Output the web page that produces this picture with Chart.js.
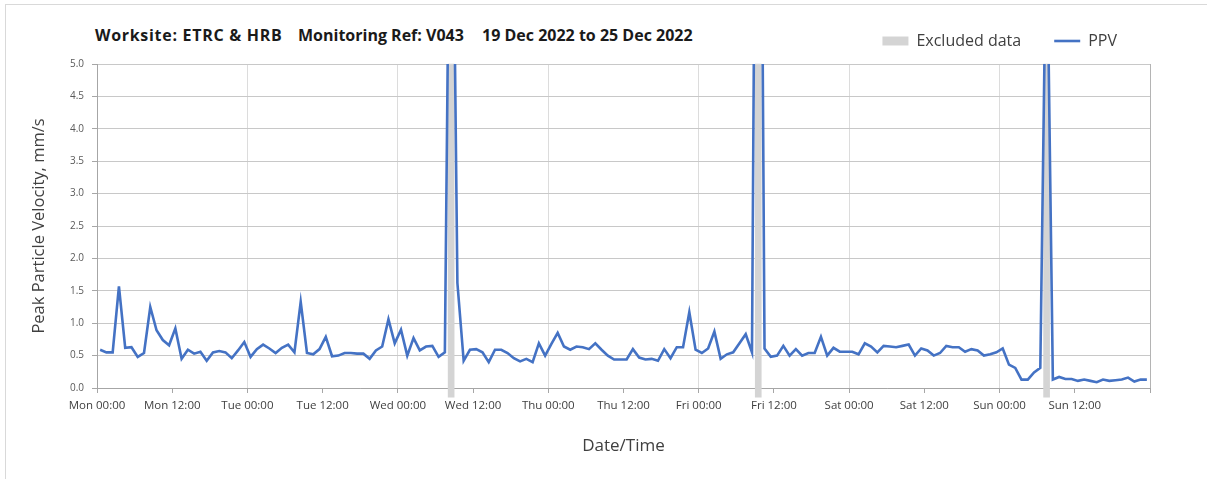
<!DOCTYPE html>
<html>
<head>
<meta charset="utf-8">
<title>PPV - V043</title>
<script src="https://cdn.jsdelivr.net/npm/chart.js@4.4.0/dist/chart.umd.min.js"></script>
<style>
  body { margin: 0; background: #fff; }
  #wrap { position: relative; width: 1207px; height: 479px; overflow: hidden; }
  #frame { position: absolute; left: 5px; top: 4px; width: 1300px; height: 600px;
           border-left: 1px solid #d9d9d9; border-top: 1px solid #d9d9d9; }
  #chartTitle span { position: absolute; top: 24px; font-family: "Open Sans", sans-serif;
                     font-weight: bold; font-size: 16px; color: #1a1a1a; white-space: pre; }
  #chartTitle .site { letter-spacing: 0.7px; }
  canvas { position: absolute; left: 0; top: 0; }
</style>
</head>
<body>
<div id="wrap">
  <div id="frame"></div>
  <div id="chartTitle"><span class="site" style="left: 95px">Worksite: ETRC &amp; HRB</span><span style="left: 298px">Monitoring Ref: V043</span><span style="left: 482px">19 Dec 2022 to 25 Dec 2022</span></div>
  <canvas id="myChart" width="1207" height="479"></canvas>
</div>
<script>
var dayLabels = ['Mon', 'Tue', 'Wed', 'Thu', 'Fri', 'Sat', 'Sun'];
var totalHours = 168;
var yMax = 5.0;
var yStep = 0.5;

// hourly PPV readings, mm/s, Mon 19 Dec 00:00 onwards
var ppvMon = [0.59, 0.55, 0.55, 1.57, 0.62, 0.63, 0.48, 0.54, 1.25, 0.89, 0.74, 0.66,
              0.92, 0.45, 0.59, 0.53, 0.56, 0.42, 0.55, 0.57, 0.55, 0.46, 0.58, 0.71];
var ppvTue = [0.48, 0.60, 0.67, 0.61, 0.54, 0.62, 0.67, 0.55, 1.33, 0.54, 0.52, 0.60,
              0.79, 0.49, 0.50, 0.54, 0.54, 0.53, 0.53, 0.45, 0.58, 0.64, 1.06, 0.69];
var ppvWed = [0.90, 0.50, 0.77, 0.58, 0.64, 0.65, 0.48, 0.55, 10.5, 1.62, 0.42, 0.59,
              0.60, 0.55, 0.40, 0.59, 0.59, 0.54, 0.46, 0.41, 0.45, 0.40, 0.69, 0.50];
var ppvThu = [0.68, 0.85, 0.64, 0.59, 0.64, 0.63, 0.60, 0.69, 0.59, 0.50, 0.44, 0.44,
              0.44, 0.60, 0.47, 0.44, 0.45, 0.42, 0.60, 0.46, 0.63, 0.63, 1.17, 0.59];
var ppvFri = [0.54, 0.61, 0.87, 0.45, 0.52, 0.55, 0.69, 0.83, 0.55, 16.0, 0.61, 0.48,
              0.50, 0.65, 0.50, 0.60, 0.50, 0.54, 0.54, 0.79, 0.50, 0.62, 0.56, 0.56];
var ppvSat = [0.56, 0.52, 0.69, 0.64, 0.55, 0.65, 0.64, 0.63, 0.65, 0.67, 0.50, 0.61,
              0.58, 0.50, 0.54, 0.65, 0.63, 0.63, 0.56, 0.60, 0.58, 0.50, 0.52, 0.55];
var ppvSun = [0.61, 0.36, 0.31, 0.13, 0.13, 0.24, 0.31, 7.5, 0.13, 0.17, 0.14, 0.14,
              0.11, 0.13, 0.11, 0.09, 0.13, 0.11, 0.12, 0.13, 0.16, 0.10, 0.13, 0.13];

// hours flagged as excluded data, band runs a little under the axis
var excludedHours = [56, 105, 151];
var excludedRange = [-0.14, yMax];

var ppv = [].concat(ppvMon, ppvTue, ppvWed, ppvThu, ppvFri, ppvSat, ppvSun);

var fontFamily = '"Open Sans", sans-serif';
var textColor = '#404040';

// gives the legend some room underneath
var legendMargin = {
    id: 'legendMargin',
    beforeInit: function(chart) {
        var fitValue = chart.legend.fit;
        chart.legend.fit = function fit() {
            fitValue.bind(chart.legend)();
            this.height += 5;
        };
    }
};

function xTickLabel(value) {
    if (value >= totalHours) return '';
    var day = dayLabels[Math.floor(value / 24)];
    return day + (value % 24 === 0 ? ' 00:00' : ' 12:00');
}

function xGridColor(ctx) {
    var v = ctx.tick.value;
    if (v === totalHours) return '#b4b4b4';
    return v % 24 === 0 ? '#dcdcdc' : 'rgba(0,0,0,0)';
}

var chartConfig = {
    type: 'line',
    data: {
        datasets: [{
            type: 'bar',
            label: 'Excluded data',
            data: excludedHours.map(function(h) { return {x: h + 0.5, y: excludedRange}; }),
            backgroundColor: '#d4d4d4',
            borderWidth: 0,
            barThickness: 6,
            pointStyle: 'rect',
            clip: false,
            order: 1
        }, {
            type: 'line',
            label: 'PPV',
            data: ppv.map(function(v, i) { return {x: i + 0.5, y: v}; }),
            borderColor: '#4472C4',
            backgroundColor: '#4472C4',
            borderWidth: 2.6,
            pointRadius: 0,
            pointStyle: 'line',
            tension: 0,
            clip: 0,
            order: 0
        }]
    },
    options: {
        responsive: false,
        animation: false,
        events: [],
        layout: { padding: { left: 29, right: 57, top: 0, bottom: 0 } },
        plugins: {
            tooltip: { enabled: false },
            legend: {
                position: 'top',
                align: 'end',
                labels: {
                    usePointStyle: true,
                    pointStyleWidth: 26,
                    boxHeight: 9,
                    padding: 33,
                    color: textColor,
                    font: { family: fontFamily, size: 16 },
                    sort: function(a, b) { return a.datasetIndex - b.datasetIndex; }
                }
            }
        },
        scales: {
            x: {
                type: 'linear',
                min: 0,
                max: totalHours,
                offset: false,
                afterFit: function(scale) { scale.height = 91; },
                grid: {
                    offset: false,
                    color: xGridColor,
                    tickColor: '#a6a6a6',
                    tickLength: 5
                },
                border: { color: '#a6a6a6' },
                ticks: {
                    stepSize: 12,
                    autoSkip: false,
                    maxRotation: 0,
                    padding: 6,
                    color: textColor,
                    font: { family: fontFamily, size: 11.5 },
                    callback: xTickLabel
                },
                title: {
                    display: true,
                    text: 'Date/Time',
                    color: textColor,
                    font: { family: fontFamily, size: 17 },
                    padding: { top: 4, bottom: 23 }
                }
            },
            y: {
                min: 0,
                max: yMax,
                afterFit: function(scale) { scale.width = 68; },
                grid: {
                    color: '#c8c8c8',
                    tickColor: '#a6a6a6',
                    tickLength: 5
                },
                border: { color: '#a6a6a6' },
                ticks: {
                    stepSize: yStep,
                    padding: 8,
                    color: '#595959',
                    font: { family: fontFamily, size: 10 },
                    callback: function(value) { return value.toFixed(1); }
                },
                title: {
                    display: true,
                    text: 'Peak Particle Velocity, mm/s',
                    color: textColor,
                    font: { family: fontFamily, size: 16.5 },
                    padding: 0
                }
            }
        }
    },
    plugins: [legendMargin]
};

var ctx = document.getElementById('myChart').getContext('2d');
var myChart = new Chart(ctx, chartConfig);
</script>
</body>
</html>
